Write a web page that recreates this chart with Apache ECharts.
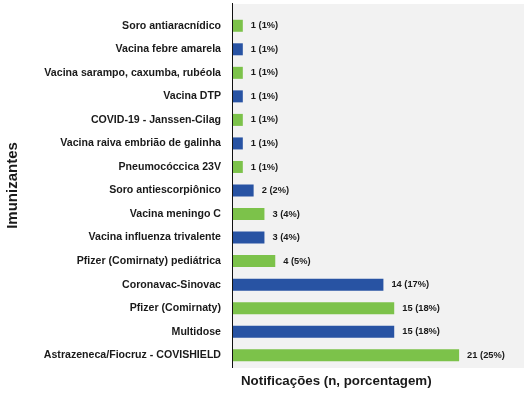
<!DOCTYPE html>
<html>
<head>
<meta charset="utf-8">
<script src="https://cdn.jsdelivr.net/npm/echarts@6/dist/echarts.min.js"></script>
<style>
  html, body { margin: 0; padding: 0; background: #fff; }
  #main { width: 528px; height: 397px; }
</style>
</head>
<body>
<div id="main"></div>
<script>
// dados (de cima para baixo)
var categorias = [
    'Soro antiaracnídico',
    'Vacina febre amarela',
    'Vacina sarampo, caxumba, rubéola',
    'Vacina DTP',
    'COVID-19 - Janssen-Cilag',
    'Vacina raiva embrião de galinha',
    'Pneumocóccica 23V',
    'Soro antiescorpiônico',
    'Vacina meningo C',
    'Vacina influenza trivalente',
    'Pfizer (Comirnaty) pediátrica',
    'Coronavac-Sinovac',
    'Pfizer (Comirnaty)',
    'Multidose',
    'Astrazeneca/Fiocruz - COVISHIELD'
];
var notificacoes = [1, 1, 1, 1, 1, 1, 1, 2, 3, 3, 4, 14, 15, 15, 21];
var porcentagens = [1, 1, 1, 1, 1, 1, 1, 2, 4, 4, 5, 17, 18, 18, 25];

var verde = '#7cc24a';
var azul = '#2853a3';
var fonte = '"Liberation Sans", Arial, sans-serif';

var chart = echarts.init(document.getElementById('main'));

var dados = [];
for (var i = 0; i < notificacoes.length; i++) {
    dados.push({
        value: notificacoes[i],
        itemStyle: { color: i % 2 == 0 ? verde : azul }
    });
}

var option = {
    animation: false,
    textStyle: { fontFamily: fonte },
    title: {
        text: 'Notificações (n, porcentagem)',
        left: 241,
        top: 375,
        padding: 0,
        textStyle: { fontSize: 13.3, fontWeight: 'bold', color: '#1a1a1a', fontFamily: fonte }
    },
    graphic: [
        {   // fundo cinza da área do gráfico
            type: 'rect',
            z: -10,
            silent: true,
            shape: { x: 232, y: 4, width: 292, height: 364 },
            style: { fill: '#f2f2f2' }
        },
        {   // linha do eixo vertical
            type: 'line',
            z: 10,
            silent: true,
            shape: { x1: 232.5, y1: 3, x2: 232.5, y2: 368 },
            style: { stroke: '#111', lineWidth: 1 }
        }
    ],
    grid: {
        left: 232,
        right: 4,
        top: 14,
        bottom: 30,
        outerBoundsMode: 'none'
    },
    xAxis: {
        type: 'value',
        min: 0,
        max: 27,
        show: false
    },
    yAxis: {
        type: 'category',
        inverse: true,
        data: categorias,
        name: 'Imunizantes',
        nameLocation: 'middle',
        nameRotate: 90,
        nameGap: 212,
        nameTextStyle: { fontSize: 15, fontWeight: 'bold', color: '#1a1a1a', padding: [0, 0, 0, 10] },
        axisLine: { show: false },
        axisTick: { show: false },
        axisLabel: {
            margin: 11,
            fontSize: 10.6,
            fontWeight: 'bold',
            color: '#1a1a1a'
        }
    },
    series: [
        {
            type: 'bar',
            data: dados,
            barWidth: 12,
            label: {
                show: true,
                position: 'right',
                distance: 8,
                fontSize: 9.3,
                fontWeight: 'bold',
                color: '#1a1a1a',
                formatter: function (p) {
                    return notificacoes[p.dataIndex] + ' (' + porcentagens[p.dataIndex] + '%)';
                }
            }
        }
    ]
};
chart.setOption(option);
</script>
</body>
</html>
